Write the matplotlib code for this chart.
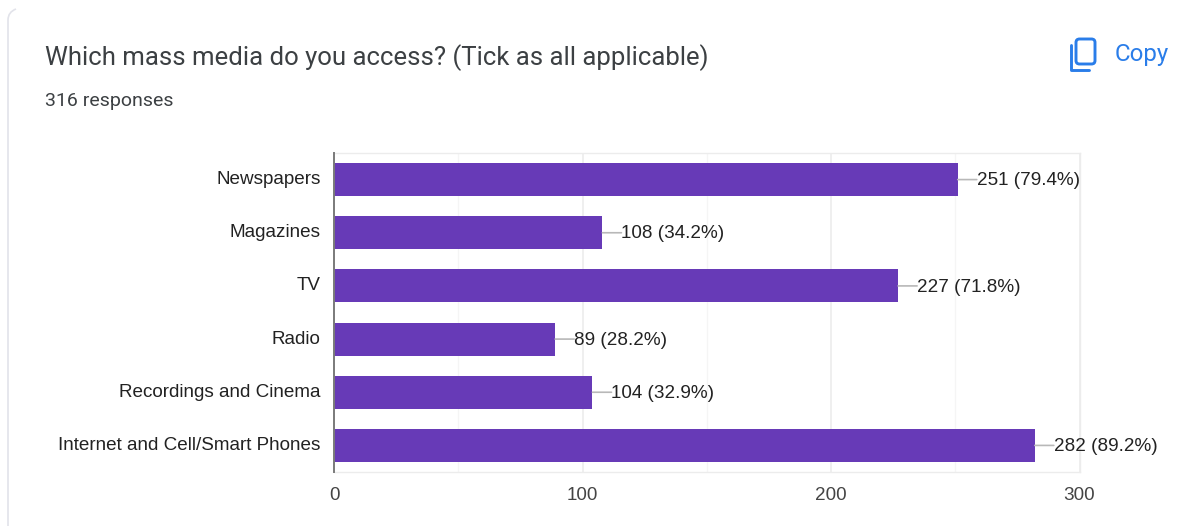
import matplotlib
matplotlib.use("Agg")
import matplotlib.pyplot as plt
from matplotlib.lines import Line2D
from matplotlib.patches import FancyBboxPatch, PathPatch
from matplotlib.path import Path

categories = ["Newspapers", "Magazines", "TV", "Radio",
              "Recordings and Cinema", "Internet and Cell/Smart Phones"]
counts = [251, 108, 227, 89, 104, 282]
percents = ["79.4%", "34.2%", "71.8%", "28.2%", "32.9%", "89.2%"]
major_ticks = [0, 100, 200, 300]
minor_ticks = [50, 150, 250]

W, H = 1179, 526
INK = "#3c4043"
BLUE = "#2a7de9"
BAR = "#673ab7"

fig = plt.figure(figsize=(W / 100, H / 100), dpi=100, facecolor="white")


def fx(px):
    return px / W


def fy(py):
    return 1 - py / H


# Card outline: left edge and rounded top-left corner
card = Path([(8, 526), (8, 20), (8, 12), (16, 9)],
            [Path.MOVETO, Path.LINETO, Path.CURVE3, Path.CURVE3])
card = Path([(fx(x), fy(y)) for x, y in card.vertices], card.codes)
fig.add_artist(PathPatch(card, fill=False, edgecolor="#e2e3ea", lw=1.2,
                         transform=fig.transFigure))

# Header text
fig.text(fx(45), fy(58), "Which mass media do you access? (Tick as all applicable)",
         family="Roboto", fontsize=18.5, color=INK, va="center", ha="left")
fig.text(fx(45), fy(101), "316 responses", family="Roboto", fontsize=14,
         color=INK, va="center", ha="left")
fig.text(fx(1115), fy(55), "Copy", family="Roboto", fontsize=17.3, color=BLUE,
         va="center", ha="left")

# Copy icon: front sheet plus the L-shaped sheet behind it
fig.add_artist(FancyBboxPatch((fx(1076), fy(64)), fx(19), 25 / H,
                              boxstyle="round,pad=0,rounding_size=0.003",
                              fill=False, edgecolor=BLUE, lw=2.1,
                              transform=fig.transFigure, mutation_aspect=2.2))
fig.add_artist(Line2D([fx(1070.5), fx(1070.5), fx(1089)],
                      [fy(45), fy(69.5), fy(69.5)], color=BLUE, lw=2.1,
                      solid_capstyle="round", solid_joinstyle="round",
                      transform=fig.transFigure))

# Bar chart
left, right, top, bottom = 334, 1079.5, 153, 472
ax = fig.add_axes([fx(left), fy(bottom), fx(right - left), (bottom - top) / H])
positions = list(range(len(categories)))
ax.barh(positions, counts, height=0.62, color=BAR, zorder=3)
ax.set_xlim(0, 300)
ax.set_ylim(len(categories) - 0.5, -0.5)

ax.set_yticks(positions, categories)
ax.set_xticks(major_ticks)
ax.set_xticks(minor_ticks, minor=True)
ax.grid(True, axis="x", which="major", color="#ececec", lw=1.2, zorder=0)
ax.grid(True, axis="x", which="minor", color="#f5f5f5", lw=1.0, zorder=0)
ax.tick_params(axis="both", which="both", length=0)
ax.tick_params(axis="y", pad=9.5, labelsize=13.6, labelcolor="#222222")
ax.tick_params(axis="x", pad=11, labelsize=13.6, labelcolor="#444444")
for label in ax.get_xticklabels() + ax.get_yticklabels():
    label.set_family("Liberation Sans")
for label in ax.get_yticklabels():
    label.set_verticalalignment("center")

for side in ("top", "right", "bottom"):
    ax.spines[side].set_color("#ececec")
    ax.spines[side].set_linewidth(1.0)
ax.spines["left"].set_color("#7a7a7a")
ax.spines["left"].set_linewidth(1.4)
ax.spines["left"].set_zorder(5)

# Value labels, each joined to its bar end by a short leader line
for pos, count, pct in zip(positions, counts, percents):
    ax.annotate("", xy=(count, pos), xytext=(13.7, 0),
                textcoords="offset points", annotation_clip=False,
                arrowprops=dict(arrowstyle="-", color="#b8b8b8", lw=1.2,
                                shrinkA=0, shrinkB=0))
    ax.annotate(f"{count} ({pct})", xy=(count, pos), xytext=(13.7, -0.8),
                textcoords="offset points", va="center", ha="left",
                family="Liberation Sans", fontsize=13.6, color="#222222",
                annotation_clip=False)

fig.savefig("out.png", dpi=100, facecolor="white")
